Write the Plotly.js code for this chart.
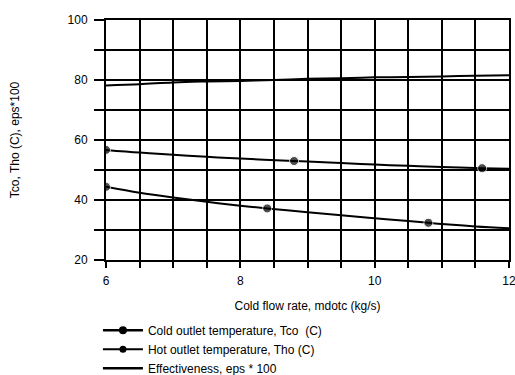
<!DOCTYPE html>
<html><head><meta charset="utf-8">
<script src="https://cdn.plot.ly/plotly-3.0.1.min.js"></script>
<style>html,body{margin:0;padding:0;background:#fff}#chart{width:515px;height:375px}</style>
</head><body><div id="chart"></div>
<script>
// Cold outlet temperature, Tco (C)
const coldX = [6, 6.5, 7, 7.5, 8, 8.4, 9, 9.5, 10, 10.5, 10.8, 11, 11.5, 12];
const coldY = [44.4, 42.4, 40.8, 39.4, 38.1, 37.2, 35.9, 34.9, 33.9, 33.0, 32.4, 32.0, 31.2, 30.6];
const coldMarkerX = [6, 8.4, 10.8];
// Hot outlet temperature, Tho (C)
const hotX = [6, 6.5, 7, 7.5, 8, 8.8, 9, 9.5, 10, 10.5, 11, 11.6, 12];
const hotY = [56.7, 55.8, 55.1, 54.4, 53.8, 53.0, 52.8, 52.3, 51.8, 51.4, 51.0, 50.6, 50.4];
const hotMarkerX = [6, 8.8, 11.6];
// Effectiveness, eps * 100
const epsX = [6, 6.5, 7, 7.5, 8, 8.5, 9, 9.5, 10, 10.5, 11, 11.5, 12];
const epsY = [78.2, 78.6, 79.2, 79.5, 79.7, 80.0, 80.4, 80.6, 80.9, 81.0, 81.2, 81.4, 81.6];

const seriesNames = ['Cold outlet temperature, Tco  (C)', 'Hot outlet temperature, Tho (C)', 'Effectiveness, eps * 100'];
const xTickVals = [6, 8, 10, 12];
const yTickVals = [20, 40, 60, 80, 100];

const FONT = 'Liberation Sans, Arial, Helvetica, sans-serif';
const MS = 9;

function sizes(xs, marks) { return xs.map(x => marks.includes(x) ? MS : 0); }

const traces = [
  {x: coldX, y: coldY, mode: 'lines+markers', line: {color: '#000', width: 2, shape: 'spline'},
   marker: {color: '#000', size: sizes(coldX, coldMarkerX), symbol: 'circle'}, showlegend: false},
  {x: hotX, y: hotY, mode: 'lines+markers', line: {color: '#000', width: 2, shape: 'spline'},
   marker: {color: '#000', size: sizes(hotX, hotMarkerX), symbol: 'circle'}, showlegend: false},
  {x: epsX, y: epsY, mode: 'lines', line: {color: '#000', width: 2, shape: 'spline'}, showlegend: false},
  // legend entries
  {x: [null], y: [null], mode: 'lines+markers', name: seriesNames[0], line: {color: '#000', width: 2.5}, marker: {color: '#000', size: 8, symbol: 'circle'}},
  {x: [null], y: [null], mode: 'lines+markers', name: seriesNames[1], line: {color: '#000', width: 2}, marker: {color: '#000', size: 7, symbol: 'circle'}},
  {x: [null], y: [null], mode: 'lines', name: seriesNames[2], line: {color: '#000', width: 2.5}}
];

const gridStyle = {showgrid: true, gridcolor: '#000', gridwidth: 2};

const layout = {
  width: 515, height: 375,
  margin: {l: 106, r: 6, t: 20, b: 115, autoexpand: false},
  paper_bgcolor: '#fff', plot_bgcolor: '#fff',
  font: {family: FONT, color: '#000', size: 12},
  showlegend: true,
  legend: {x: -0.02, xanchor: 'left', y: -0.232, yanchor: 'top',
           bgcolor: 'rgba(0,0,0,0)', itemwidth: 40,
           font: {family: FONT, size: 12, color: '#000'}, traceorder: 'normal', tracegroupgap: 0},
  xaxis: Object.assign({
    range: [6, 12], tickmode: 'array', tickvals: xTickVals, ticktext: xTickVals.map(String),
    ticks: 'outside', ticklen: 6, tickwidth: 2, tickcolor: '#000', ticklabelstandoff: 3, ticklabeloverflow: 'allow',
    showline: true, linecolor: '#000', linewidth: 2, mirror: true, zeroline: false,
    tickfont: {family: FONT, size: 12, color: '#000'},
    minor: {tickmode: 'linear', tick0: 6, dtick: 0.5, ticks: 'outside', ticklen: 6, tickwidth: 2, tickcolor: '#000',
            showgrid: true, gridcolor: '#000', gridwidth: 2},
    title: {text: 'Cold flow rate, mdotc (kg/s)', standoff: 14, font: {family: FONT, size: 12, color: '#000'}}
  }, gridStyle),
  yaxis: Object.assign({
    range: [20, 100], tickmode: 'array', tickvals: yTickVals, ticktext: yTickVals.map(String),
    ticks: 'outside', ticklen: 10, tickwidth: 2, tickcolor: '#000', ticklabelstandoff: 4,
    showline: true, linecolor: '#000', linewidth: 2, mirror: true, zeroline: false,
    tickfont: {family: FONT, size: 12, color: '#000'},
    minor: {tickmode: 'linear', tick0: 20, dtick: 10, ticks: 'outside', ticklen: 10, tickwidth: 2, tickcolor: '#000',
            showgrid: true, gridcolor: '#000', gridwidth: 2},
    title: {text: 'Tco, Tho (C), eps*100', standoff: 45, font: {family: FONT, size: 12, color: '#000'}}
  }, gridStyle)
};

Plotly.newPlot('chart', traces, layout, {displayModeBar: false, staticPlot: true});
</script>
</body></html>
